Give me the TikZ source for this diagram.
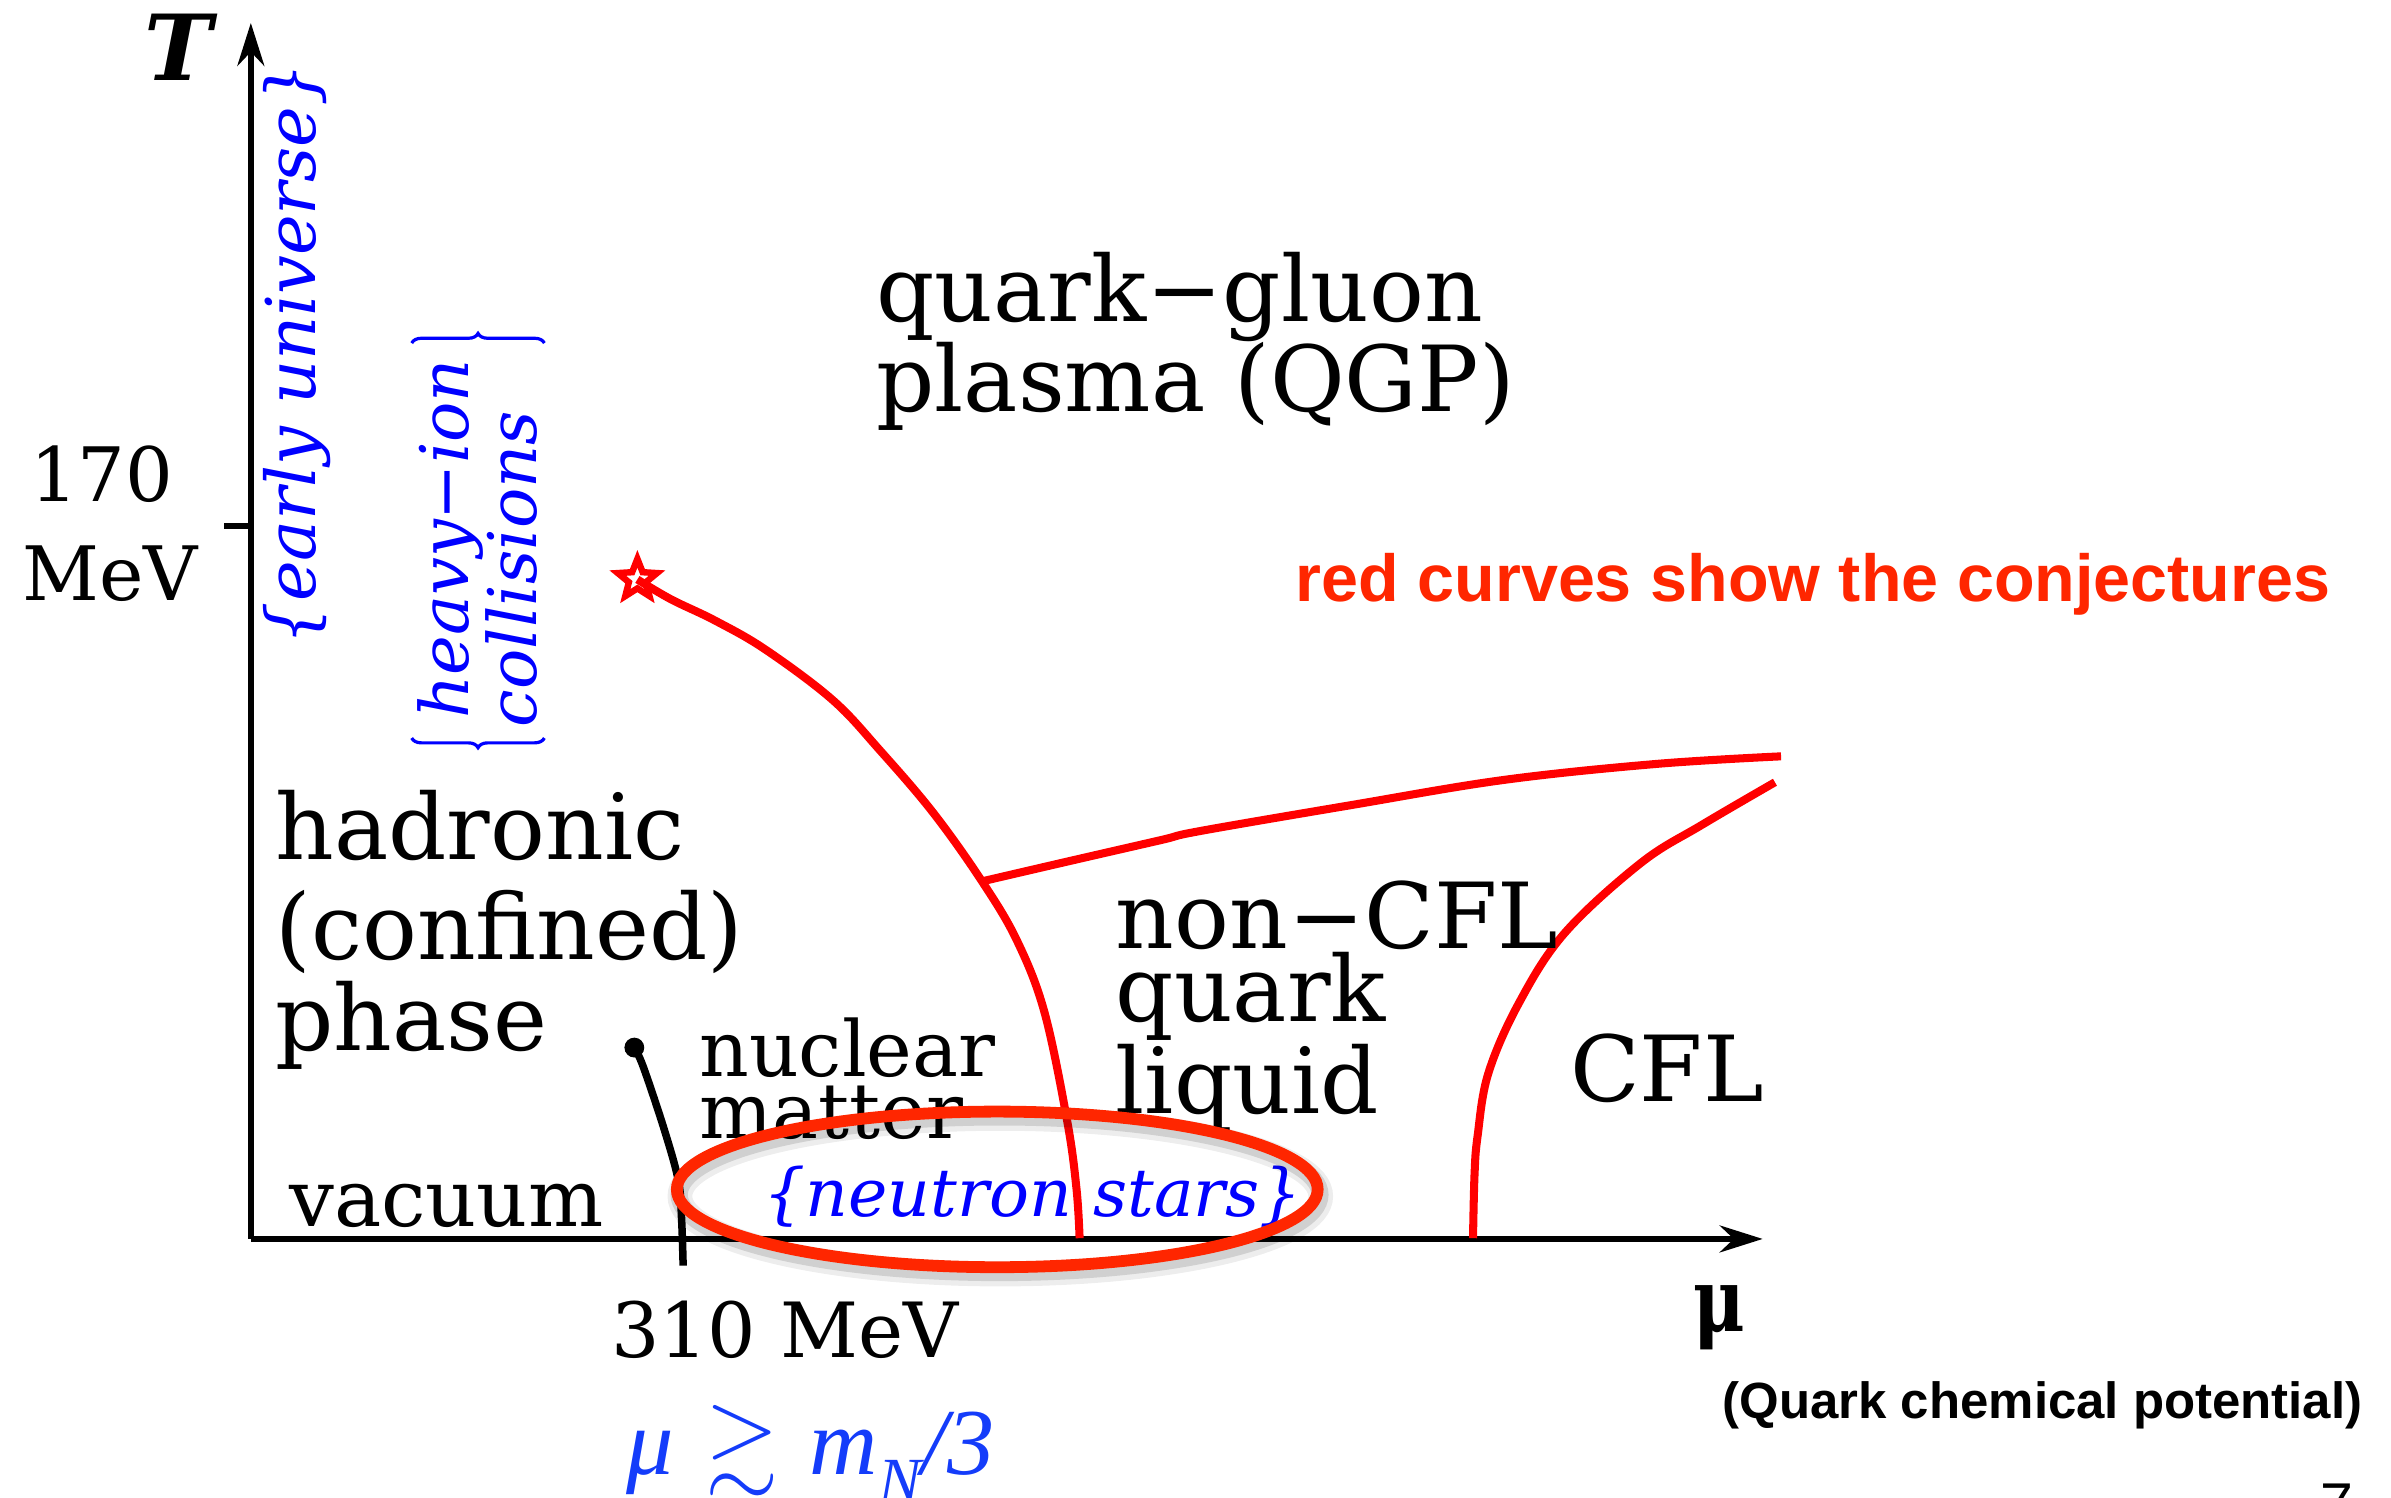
\documentclass[tikz,border=0pt]{standalone}
\usepackage{fontspec}
\usepackage{amssymb}
\usepackage{graphicx}
\setmainfont{DejaVu Serif}
\newfontfamily\helvfont{Liberation Sans}
\newfontfamily\timesfont{Liberation Serif}
\usetikzlibrary{arrows.meta,shapes.geometric,decorations.pathreplacing}
\definecolor{curvered}{RGB}{255,0,0}
\definecolor{ellred}{RGB}{255,38,0}
\definecolor{labelblue}{RGB}{0,0,255}
\definecolor{mublue}{RGB}{20,60,250}
\newcommand{\fsz}[1]{\fontsize{#1}{#1}\selectfont}
\tikzset{
  lbl/.style={inner sep=0pt, anchor=base west},
  phaselbl/.style={lbl, font=\fsz{17}},
  smalllbl/.style={lbl, font=\fsz{14.2}},
  bluelbl/.style={lbl, text=labelblue, font=\fsz{12.5}\itshape},
  axisline/.style={line width=1.2pt, -{Stealth[length=8pt,width=5pt]}},
  redcurve/.style={curvered, line width=1.5pt},
  bracestyle/.style={labelblue, line width=0.6pt, decorate, decoration={brace, amplitude=1.8pt}},
}
\begin{document}
\begin{tikzpicture}[x=0.01cm,y=-0.01cm]
\useasboundingbox (0,0) rectangle (1568,982);

% axes
\coordinate (origin) at (164.5,812.5);
\coordinate (yend) at (164.5,15);
\coordinate (xend) at (1156,812.5);
\draw[axisline] (origin) -- (yend);
\draw[axisline] (origin) -- (xend);
\coordinate (tickA) at (147,345);
\coordinate (tickB) at (164.5,345);
\draw[line width=1.2pt] (tickA) -- (tickB);

% axis labels
\node[inner sep=0pt, anchor=base, font=\fsz{17}\bfseries\itshape] (Tlbl) at (117,53) {T};
\node[lbl, font=\fsz{14}] (t170) at (19,329) {170};
\node[lbl, font=\fsz{14}] (tmev) at (14,393.6) {MeV};
\node[lbl, font=\fsz{16.5}\bfseries] (mulbl) at (1110,873) {\scalebox{0.8}[1]{μ}};
\node[smalllbl] (m310) at (400,890.5) {310 MeV};

% red curves
\node[star, star points=5, star point ratio=2.3, draw=curvered, line width=1.2pt, inner sep=0pt, minimum size=0.27cm] (cp) at (418,380) {};
\coordinate (junc) at (644,578);
\coordinate (dconf) at (708,812);
\draw[redcurve] plot[smooth, tension=0.6] coordinates {(418,380) (440,393) (469,407) (502,426) (546,459) (577,492) (612,533) (644,578) (667,617) (685,664) (700,736) (706,780) (708,812)};
\draw[redcurve] plot[smooth, tension=0.6] coordinates {(644,578) (700,565) (761,551) (787,545) (886,528) (986,511.5) (1086,501) (1168,496)};
\draw[redcurve] plot[smooth, tension=0.6] coordinates {(966,812) (967,770) (969,745) (976,704) (996,658) (1026,612) (1076,566) (1116,541) (1164,513)};

% nuclear line
\node[circle, fill=black, inner sep=0pt, minimum size=0.13cm] (nucdot) at (416,687) {};
\draw[line width=1.4pt] plot[smooth, tension=0.6] coordinates {(416,687) (422,700) (436,742) (445,775) (447,800) (448,830)};

% phase labels
\node[phaselbl] (qgp1) at (574,211) {quark−gluon};
\node[phaselbl] (qgp2) at (574,270) {plasma (QGP)};
\node[phaselbl] (had1) at (180,563.7) {hadronic};
\node[phaselbl] (had2) at (180,629) {(confined)};
\node[phaselbl] (had3) at (180,689) {phase};
\node[lbl, font=\fsz{14.4}] (nuc1) at (458,706) {nuclear};
\node[lbl, font=\fsz{14.4}] (nuc2) at (458,746.7) {matter};
\node[lbl, font=\fsz{14.8}] (vac) at (189,804.6) {vacuum};
\node[phaselbl] (ncfl1) at (731,622) {non−CFL};
\node[phaselbl] (ncfl2) at (731,670) {quark};
\node[phaselbl] (ncfl3) at (731,730) {liquid};
\node[phaselbl] (cfl) at (1029,722.3) {CFL};

% blue labels
\node[bluelbl, rotate=90, font=\fsz{12.8}\itshape] (early) at (207,424) {\{early universe\}};
\node[bluelbl, rotate=90] (heavy) at (307,472) {heavy−ion};
\node[bluelbl, rotate=90] (coll) at (352,477.5) {collisions};
\coordinate (brA) at (270,225);
\coordinate (brB) at (357,225);
\coordinate (brC) at (357,484);
\coordinate (brD) at (270,484);
\draw[bracestyle] (brA) -- (brB);
\draw[bracestyle] (brC) -- (brD);
\node[bluelbl, font=\fsz{12.4}\itshape] (ns) at (500,798) {\{neutron stars\}};

% ellipse with shadow
\draw[black, opacity=0.07, line width=4.6pt] (656,784.5) ellipse [x radius=2.1cm, y radius=0.51cm];
\draw[black, opacity=0.12, line width=3.2pt] (655.5,783.5) ellipse [x radius=2.1cm, y radius=0.51cm];
\draw[ellred, line width=2.2pt] (654,780) ellipse [x radius=2.1cm, y radius=0.51cm];

% annotations
\node[lbl, text=ellred, font=\helvfont\bfseries\fsz{12.4}] (conj) at (849,394.6) {red curves show the conjectures};
\node[lbl, font=\helvfont\bfseries\fsz{9.5}] (qcp) at (1129,930) {(Quark chemical potential)};
\node[lbl, text=mublue, font=\timesfont\itshape\fsz{17.6}] (mucond) at (410,967) {μ\,\,$\gtrsim$\,\,m\raisebox{-0.3em}{\fsz{12}N}/3};
\node[lbl, font=\helvfont\fsz{11}] (pagenum) at (1521,1000) {7};
\end{tikzpicture}
\end{document}
